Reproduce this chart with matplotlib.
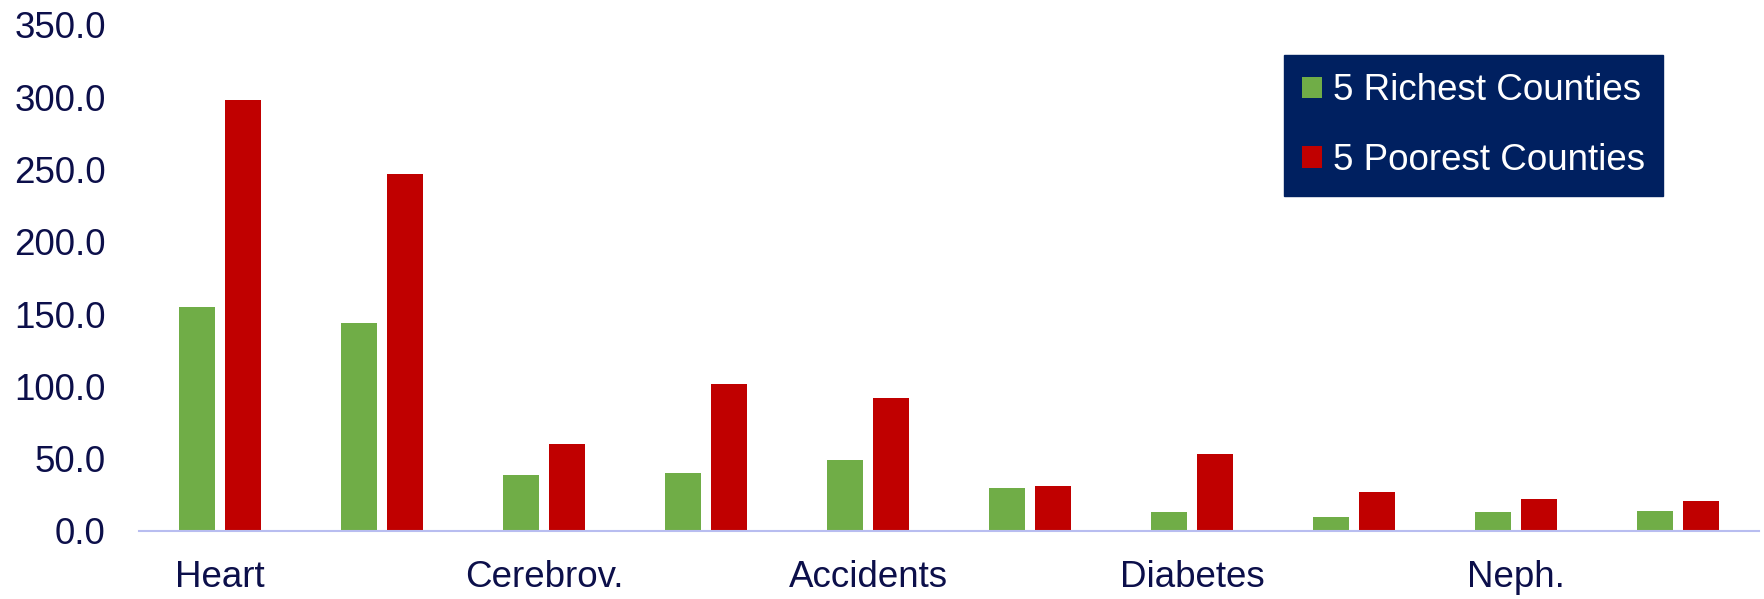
import matplotlib
matplotlib.use("Agg")
import matplotlib.pyplot as plt
import numpy as np

# Mortality rates by cause of death, richest vs. poorest counties
categories = ["Heart", "", "Cerebrov.", "", "Accidents", "", "Diabetes", "", "Neph.", ""]
richest = [155, 144, 39, 40, 49, 30, 13, 10, 13, 14]
poorest = [298, 247, 60, 102, 92, 31, 53, 27, 22, 20.5]
series_names = ["5 Richest Counties", "5 Poorest Counties"]
y_ticks = [0, 50, 100, 150, 200, 250, 300, 350]

GREEN = "#70ad47"
RED = "#c00000"
NAVY = "#0c0f4a"
LEGEND_BG = "#002060"
FS = 26.5

plt.rcParams["font.family"] = ["Liberation Sans", "DejaVu Sans"]

W, H = 1764, 599
fig = plt.figure(figsize=(W / 100, H / 100), dpi=100)
ax = fig.add_axes([139 / W, 1 - 531 / H, (1759 - 139) / W, (531 - 25) / H])

x = np.arange(len(categories))
w = 0.222
off = 0.142
ax.bar(x - off, richest, width=w, color=GREEN, label=series_names[0])
ax.bar(x + off, poorest, width=w, color=RED, label=series_names[1])

ax.set_xlim(-0.5, len(categories) - 0.5)
ax.set_ylim(0, 350)
ax.set_yticks(y_ticks)
ax.set_yticklabels([f"{v:.1f}" for v in y_ticks])
ax.set_xticks(x)
ax.set_xticklabels(categories)

ax.tick_params(axis="y", length=0, pad=24, labelsize=FS, labelcolor=NAVY)
ax.tick_params(axis="x", length=0, pad=21, labelsize=FS, labelcolor=NAVY)

for side in ["top", "right", "left"]:
    ax.spines[side].set_visible(False)
ax.spines["bottom"].set_color("#b8bdf0")
ax.spines["bottom"].set_linewidth(1.5)

leg = ax.legend(loc="upper left", bbox_to_anchor=(1284 / W, 1 - 55 / H),
                bbox_transform=fig.transFigure, fontsize=FS, frameon=True,
                fancybox=False, facecolor=LEGEND_BG, edgecolor=LEGEND_BG,
                framealpha=1, handlelength=0.52, handleheight=0.52,
                handletextpad=0.3, labelspacing=0.94, borderpad=0.5,
                borderaxespad=0)
for t in leg.get_texts():
    t.set_color("white")

fig.savefig("out.png", dpi=100)
